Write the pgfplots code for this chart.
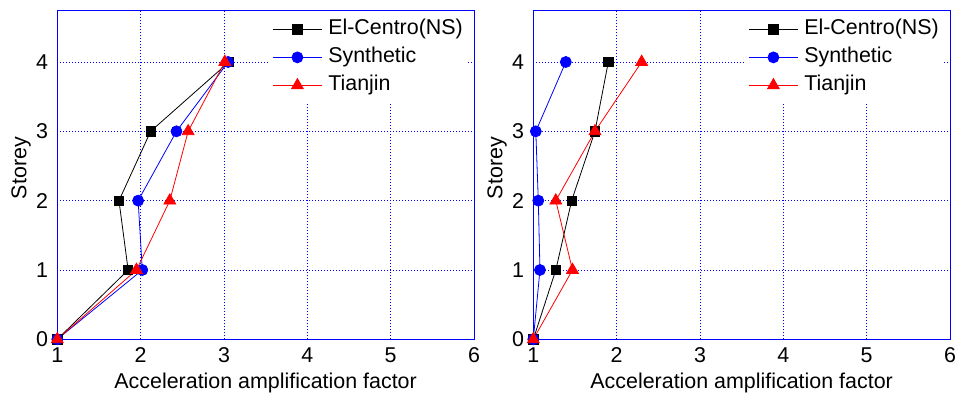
\documentclass[border=0pt]{standalone}
\usepackage{fontspec}
\setmainfont{Liberation Sans}
\usepackage{pgfplots}
\pgfplotsset{compat=1.18}

\pgfplotsset{
 storeystyle/.style={
  scale only axis, width=416.7bp, height=328.6bp,
  xmin=1,xmax=6,ymin=0,ymax=4.74,
  xtick={1,2,3,4,5,6}, ytick={0,1,2,3,4},
  grid=major,
  major grid style={blue, line width=0.6bp, dash pattern=on 1bp off 2bp},
  axis line style={blue, line width=0.9bp},
  major tick length=0pt,
  tick style={draw=none},
  clip=false,
  /pgf/number format/assume math mode=true,
  ticklabel style={font=\fontsize{21.5}{25}\selectfont},
  xticklabel style={anchor=base, inner sep=0pt, yshift=-23.5bp},
  yticklabel style={anchor=east, inner sep=0pt, xshift=-9bp},
  label style={font=\fontsize{21.5}{25}\selectfont},
  xlabel={Acceleration amplification factor},
  ylabel={Storey},
  xlabel style={at={(axis description cs:0.5,0)}, anchor=base, inner sep=0pt, yshift=-49.5bp},
  ylabel style={at={(axis description cs:-0.0744,0.521)}, anchor=base, inner sep=0pt},
  legend cell align=left,
  legend style={at={(axis description cs:1,1)}, anchor=north east, xshift=-6bp, yshift=0bp,
    draw=none, fill=white, font=\fontsize{21.5}{25}\selectfont,
    inner xsep=5bp, inner ysep=9bp, row sep=9bp,
    nodes={inner sep=0pt, text height=15bp, text depth=4bp},
    /tikz/every odd column/.append style={column sep=6bp}},
  legend image code/.code={\draw[mark repeat=2,mark phase=2,#1] plot coordinates {(0bp,0bp) (24.5bp,0bp) (49bp,0bp)};},
  ecstyle/.style={black, line width=0.8bp, mark=square*, mark size=4.6bp, mark options={solid, fill=black}},
  systyle/.style={blue, line width=0.8bp, mark=*, mark size=5.5bp, mark options={solid, fill=blue}},
  tjstyle/.style={red, line width=0.8bp, mark=triangle*, mark size=6.8bp, mark options={solid, fill=red}},
 }
}

\begin{document}
\begin{tikzpicture}
\useasboundingbox (0,0) rectangle (959bp,398bp);
% Left panel
\begin{axis}[storeystyle, at={(57.3bp,58.7bp)}, anchor=south west]
\addplot[ecstyle] coordinates {(1,0) (1.85,1) (1.74,2) (2.12,3) (3.06,4)};
\addlegendentry{El-Centro(NS)}
\addplot[systyle] coordinates {(1,0) (2.02,1) (1.97,2) (2.43,3) (3.05,4)};
\addlegendentry{Synthetic}
\addplot[tjstyle] coordinates {(1,0) (1.95,1) (2.35,2) (2.57,3) (3.01,4)};
\addlegendentry{Tianjin}
\end{axis}
% Right panel
\begin{axis}[storeystyle, at={(533.3bp,58.7bp)}, anchor=south west]
\addplot[ecstyle] coordinates {(1,0) (1.27,1) (1.46,2) (1.74,3) (1.90,4)};
\addlegendentry{El-Centro(NS)}
\addplot[systyle] coordinates {(1,0) (1.08,1) (1.06,2) (1.03,3) (1.39,4)};
\addlegendentry{Synthetic}
\addplot[tjstyle] coordinates {(1,0) (1.47,1) (1.27,2) (1.74,3) (2.30,4)};
\addlegendentry{Tianjin}
\end{axis}
\end{tikzpicture}
\end{document}
